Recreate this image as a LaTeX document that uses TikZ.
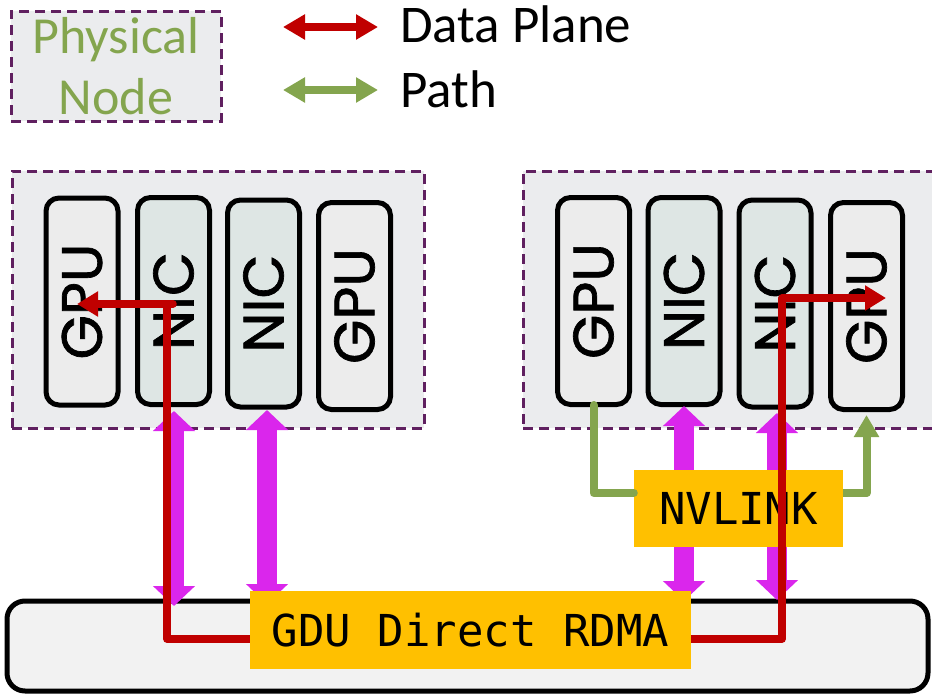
\documentclass[tikz,border=0pt]{standalone}
\usepackage{fontspec}
\setmainfont{Carlito}
\newfontfamily\geofont[FakeStretch=1.0,FakeBold=1.2]{Poppins}
\newfontfamily\codefont{DejaVu Sans Mono}
\usetikzlibrary{arrows.meta,calc}
\definecolor{outergray}{RGB}{235,236,238}
\definecolor{gpugray}{RGB}{236,236,236}
\definecolor{nicgreen}{RGB}{222,230,228}
\definecolor{dashpurple}{RGB}{96,32,96}
\definecolor{pathgreen}{RGB}{132,165,78}
\definecolor{datared}{RGB}{192,0,0}
\definecolor{boxyellow}{RGB}{255,192,0}
\definecolor{magentaA}{RGB}{218,38,236}
\definecolor{basegray}{RGB}{242,242,242}
\tikzset{
  hostbox/.style={draw=dashpurple, line width=3pt, dash pattern=on 10pt off 6pt, fill=outergray, inner sep=0pt},
  unitbox/.style={draw=black, line width=5pt, rounded corners=13pt, minimum width=72pt, minimum height=207pt, inner sep=0pt, font=\geofont\fontsize{57}{57}\selectfont},
  gpubox/.style={unitbox, fill=gpugray},
  nicbox/.style={unitbox, fill=nicgreen},
  magarrow/.style={draw=magentaA, line width=20pt, {Triangle[length=20pt,width=41pt]}-{Triangle[length=20pt,width=41pt]}},
  dataline/.style={draw=datared, line width=7.5pt, line cap=round, line join=round},
  pathline/.style={draw=pathgreen, line width=8pt, line cap=round, line join=round},
  redtip/.style={-{Triangle[length=21pt,width=24pt]}},
  greentip/.style={-{Triangle[length=22pt,width=24pt]}},
  labelbox/.style={fill=boxyellow, inner sep=0pt, font=\codefont\fontsize{44}{44}\selectfont},
  legendtext/.style={anchor=base west, inner sep=0pt, font=\fontsize{53}{53}\selectfont}
}
\begin{document}
\begin{tikzpicture}[x=1pt,y=-1pt]
\useasboundingbox (0,0) rectangle (932,694);
\clip (0,0) rectangle (932,694);
% legend
\node[hostbox, minimum width=210pt, minimum height=110pt, text=pathgreen, align=center, font=\fontsize{52}{61}\selectfont] (legend) at (116,66) {Physical\\Node};
\coordinate (la1) at (283,27);
\coordinate (la2) at (378,27);
\coordinate (lb1) at (283,90);
\coordinate (lb2) at (378,90);
\draw[draw=datared, line width=7.5pt, {Triangle[length=22pt,width=24pt]}-{Triangle[length=22pt,width=24pt]}] (la1) -- (la2);
\draw[draw=pathgreen, line width=7.5pt, {Triangle[length=22pt,width=24pt]}-{Triangle[length=22pt,width=24pt]}] (lb1) -- (lb2);
\node[legendtext] (ldata) at (400,42) {Data Plane};
\node[legendtext] (lpath) at (400,107) {Path};
% base box
\node[draw=black, line width=5pt, rounded corners=18pt, fill=basegray, minimum width=921pt, minimum height=90pt, inner sep=0pt] (base) at (467.5,646) {};
% hosts
\node[hostbox, minimum width=412pt, minimum height=257pt] (hostL) at (218,299.5) {};
\node[hostbox, minimum width=422pt, minimum height=257pt] (hostR) at (734,299.5) {};
% units left
\node[gpubox] (gpu1) at (82,301.5) {\rotatebox{90}{GPU}};
\node[nicbox] (nic1) at (173.5,301) {\rotatebox{90}{NIC}};
\node[nicbox] (nic2) at (263.5,303.5) {\rotatebox{90}{NIC}};
\node[gpubox] (gpu2) at (354.5,306) {\rotatebox{90}{GPU}};
% units right
\node[gpubox] (gpu3) at (593.5,301) {\rotatebox{90}{GPU}};
\node[nicbox] (nic3) at (684,301) {\rotatebox{90}{NIC}};
\node[nicbox] (nic4) at (775,303.5) {\rotatebox{90}{NIC}};
\node[gpubox] (gpu4) at (866.5,306) {\rotatebox{90}{GPU}};
% magenta links
\coordinate (m1a) at (174,411); \coordinate (m1b) at (174,606);
\coordinate (m2a) at (267,410); \coordinate (m2b) at (267,604);
\coordinate (m3a) at (684,406); \coordinate (m3b) at (684,601);
\coordinate (m4a) at (777,413); \coordinate (m4b) at (777,600);
\draw[magarrow] (m1a) -- (m1b);
\draw[magarrow] (m2a) -- (m2b);
\draw[magarrow] (m3a) -- (m3b);
\draw[magarrow] (m4a) -- (m4b);
% NVLINK path
\coordinate (g1) at (593.5,493);
\coordinate (g2) at (866.5,493);
\node[labelbox, minimum width=209pt, minimum height=77pt] (nvlink) at (738.5,508.5) {NVLINK};
\draw[pathline] ([yshift=2pt]gpu3.south) -- (g1) -- (g1 -| nvlink.west);
\draw[pathline, line cap=butt, greentip] (g2 -| nvlink.east) -- (g2) -- ([yshift=-3pt]gpu4.south);
% data plane
\coordinate (rl) at (77,304);
\coordinate (rs) at (173,304);
\coordinate (rc1) at (167,304);
\coordinate (rc2) at (167,639);
\coordinate (rc3) at (782,639);
\coordinate (rc4) at (782,298);
\coordinate (rr) at (886,298);
\draw[dataline, redtip] (rs) -- (rl);
\draw[dataline, redtip] (rc1) -- (rc2) -- (rc3) -- (rc4) -- (rr);
% GDU box
\node[labelbox, minimum width=441pt, minimum height=78pt] (gdu) at (470.5,630) {GDU Direct RDMA};
\end{tikzpicture}
\end{document}
